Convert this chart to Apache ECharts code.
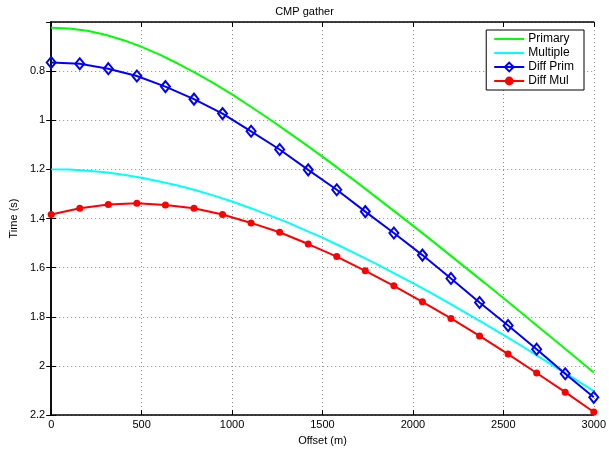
<!DOCTYPE html>
<html><head><meta charset="utf-8">
<script src="https://cdn.jsdelivr.net/npm/echarts@6/dist/echarts.min.js"></script>
<style>html,body{margin:0;padding:0;background:#fff}#c{width:609px;height:451px}</style>
</head><body><div id="c"></div>
<script>
var offsetsSmooth = [0,100,200,300,400,500,600,700,800,900,1000,1100,1200,1300,1400,1500,1600,1700,1800,1900,2000,2100,2200,2300,2400,2500,2600,2700,2800,2900,3000];
var primary = [0.623,0.626,0.636,0.652,0.674,0.701,0.733,0.769,0.808,0.850,0.895,0.943,0.992,1.043,1.095,1.148,1.203,1.258,1.315,1.372,1.429,1.487,1.546,1.605,1.664,1.724,1.784,1.845,1.905,1.966,2.027];
var multiple = [1.200,1.201,1.206,1.212,1.222,1.234,1.249,1.266,1.285,1.307,1.331,1.357,1.385,1.414,1.446,1.478,1.513,1.549,1.586,1.624,1.663,1.703,1.745,1.787,1.830,1.874,1.918,1.964,2.010,2.056,2.103];
var offsetsMarked = [0,157.9,315.8,473.7,631.6,789.5,947.4,1105.3,1263.2,1421.1,1578.9,1736.8,1894.7,2052.6,2210.5,2368.4,2526.3,2684.2,2842.1,3000];
var diffPrim = [0.765,0.770,0.790,0.820,0.863,0.914,0.973,1.045,1.119,1.202,1.283,1.372,1.459,1.549,1.644,1.742,1.836,1.932,2.032,2.128];
var diffMul = [1.384,1.358,1.343,1.338,1.345,1.358,1.384,1.418,1.456,1.504,1.555,1.613,1.674,1.739,1.807,1.878,1.952,2.029,2.107,2.188];
var xTicks = [0,500,1000,1500,2000,2500,3000];
var yTicks = [0.8,1,1.2,1.4,1.6,1.8,2,2.2];

function pairs(xs, ys){ return xs.map(function(x,i){ return [x, ys[i]]; }); }
var font = 'Liberation Sans, Arial, sans-serif';
var chart = echarts.init(document.getElementById('c'));
var tickCommon = {show:true, inside:true, length:5, lineStyle:{color:'#000', width:1}};
chart.setOption({
  animation:false,
  title:{text:'CMP gather', left:'center', top:1, textStyle:{fontFamily:font, fontSize:11, fontWeight:'normal', color:'#000'}},
  legend:{
    orient:'vertical', right:25, top:30, backgroundColor:'#fff', borderColor:'#000', borderWidth:1,
    padding:[3,10,3,7], itemGap:2, itemWidth:30, itemHeight:11,
    textStyle:{fontFamily:font, fontSize:12, color:'#000', padding:[0,0,0,-1], lineHeight:12},
    data:['Primary','Multiple','Diff Prim','Diff Mul']
  },
  grid:{left:50, right:13, top:22, bottom:35},
  xAxis:[{
    type:'value', min:0, max:3000, interval:500, name:'Offset (m)', nameLocation:'middle', nameGap:20,
    nameTextStyle:{fontFamily:font, fontSize:11, color:'#000'},
    axisLine:{show:true, lineStyle:{color:'#000', width:1.5}},
    axisTick:tickCommon,
    axisLabel:{fontFamily:font, fontSize:11, color:'#000', margin:4, formatter:function(v){return xTicks.indexOf(v)>=0? String(v):'';}},
    splitLine:{show:true, lineStyle:{color:'#888', type:[1,3], width:1}}
  },{
    type:'value', position:'top', min:0, max:3000, interval:500,
    axisLine:{show:true, lineStyle:{color:'#000', width:1.5}}, axisTick:tickCommon, axisLabel:{show:false}, splitLine:{show:false}
  }],
  yAxis:[{
    type:'value', inverse:true, min:0.6, max:2.2, interval:0.2, name:'Time (s)', nameLocation:'middle', nameGap:30,
    nameTextStyle:{fontFamily:font, fontSize:11, color:'#000'},
    axisLine:{show:true, lineStyle:{color:'#000', width:1.5}},
    axisTick:tickCommon,
    axisLabel:{fontFamily:font, fontSize:11, color:'#000', margin:6, showMinLabel:false,
      formatter:function(v){ var r=Math.round(v*10)/10; return yTicks.indexOf(r)>=0? String(r):''; }},
    splitLine:{show:true, lineStyle:{color:'#888', type:[1,3], width:1}}
  },{
    type:'value', inverse:true, position:'right', min:0.6, max:2.2, interval:0.2,
    axisLine:{show:true, lineStyle:{color:'#000', width:1.5}}, axisTick:tickCommon, axisLabel:{show:false}, splitLine:{show:false}
  }],
  series:[
    {name:'Primary', type:'line', data:pairs(offsetsSmooth, primary), showSymbol:false, symbol:'circle',
     lineStyle:{color:'#00ff00', width:2}, itemStyle:{color:'rgba(0,0,0,0)', borderWidth:0}},
    {name:'Multiple', type:'line', data:pairs(offsetsSmooth, multiple), showSymbol:false, symbol:'circle',
     lineStyle:{color:'#00ffff', width:2}, itemStyle:{color:'rgba(0,0,0,0)', borderWidth:0}},
    {name:'Diff Prim', type:'line', data:pairs(offsetsMarked, diffPrim), symbol:'diamond', symbolSize:[9,11],
     lineStyle:{color:'#0000ff', width:2}, itemStyle:{color:'rgba(0,0,255,0)', borderColor:'#0000ff', borderWidth:2}},
    {name:'Diff Mul', type:'line', data:pairs(offsetsMarked, diffMul), symbol:'circle', symbolSize:7,
     lineStyle:{color:'#ff0000', width:2}, itemStyle:{color:'#ff0000'}}
  ]
});
</script></body></html>
